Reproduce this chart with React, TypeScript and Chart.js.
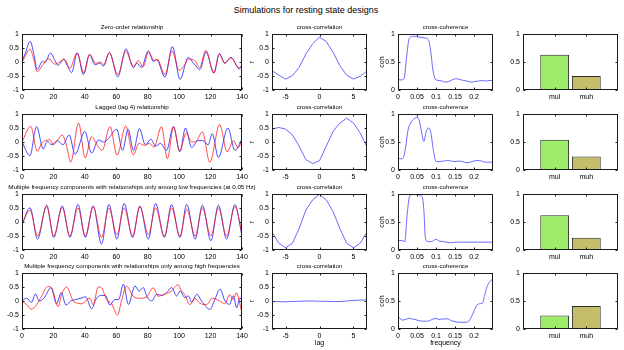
import React, { useEffect, useRef } from 'react';
import { Chart, registerables } from 'chart.js';

Chart.register(...registerables);

// ---------------- data ----------------
const ROW_TITLES = [
  'Zero-order relationship',
  'Lagged (lag 4) relationship',
  'Multiple frequency components with relationships only among low frequencies (at 0.05 Hz)',
  'Multiple frequency components with relationships only among high frequencies',
];
const MAIN_TITLE = 'Simulations for resting state designs';

const timeTicks = [0, 20, 40, 60, 80, 100, 120, 140];
const signalTicks = [-1, -0.5, 0, 0.5, 1];
const lagTicks = [-5, 0, 5];
const freqTicks = [0, 0.05, 0.1, 0.15, 0.2];
const unitTicks = [0, 0.5, 1];
const barCats = ['mul', 'muh'];
const barPos = [1, 2];

// row 1: zero-order
const zeroBlueT = [0, 2, 5.2, 7.5, 9.7, 13, 14.5, 18.2, 21, 23, 26.5, 29, 31.6, 35.2, 39, 42.9, 46.5, 49.6, 51.8, 55.6, 61, 66.2, 70.9, 73, 76, 80.4, 83.6, 85.7, 91, 95.7, 100.6, 105.8, 109, 113.3, 117.1, 122.2, 125.6, 129.2, 133, 138.3, 140];
const zeroBlueV = [0.02, 0.3, 0.74, 0.3, -0.27, 0.02, -0.02, 0.32, 0.05, -0.12, 0.1, -0.15, -0.38, 0.33, -0.45, 0.26, -0.1, -0.04, -0.15, 0.34, -0.53, 0.47, -0.21, -0.04, -0.2, 0.4, 0.02, 0.08, -0.54, 0.55, -0.62, 0.17, -0.03, -0.27, 0.36, -0.39, 0.3, -0.04, 0.17, -0.25, -0.1];
const zeroRedT = [0, 2, 5, 7.5, 9.7, 13, 17, 21, 24, 27, 30.5, 35, 39.5, 43, 47, 50, 52, 55.5, 61, 66, 71, 74, 77, 80.5, 84, 86, 91, 95.5, 100, 103, 106, 110, 113, 117, 122, 125.5, 129, 133, 138, 140];
const zeroRedV = [0.0, 0.2, 0.46, 0.1, -0.35, -0.12, 0.12, -0.08, 0.0, 0.1, -0.22, 0.32, -0.4, 0.28, -0.05, 0.0, -0.1, 0.33, -0.45, 0.38, -0.15, 0.05, -0.18, 0.35, 0.05, 0.1, -0.45, 0.4, -0.3, -0.15, 0.1, 0.05, -0.2, 0.42, -0.4, 0.28, -0.05, 0.15, -0.2, -0.12];

// row 2: lagged
const lagBlueT = [0, 5, 9.3, 13.5, 16, 19, 22.5, 26, 30, 33.8, 40, 44.3, 48.6, 52, 55, 60.2, 64, 67.5, 71, 74.7, 78.5, 82, 85, 88, 92, 96.3, 100.5, 104, 108, 112, 115, 118.5, 121, 125, 131, 135.5, 140];
const lagBlueV = [0, -0.49, 0.55, -0.25, 0.02, -0.1, 0.05, -0.1, 0.25, -0.44, 0.38, -0.4, 0.07, 0.0, 0.12, 0.46, -0.3, 0.45, -0.3, 0.48, -0.1, 0.1, -0.15, -0.05, -0.3, 0.55, -0.35, 0.5, -0.2, 0.05, 0.05, -0.1, 0.3, -0.55, 0.5, -0.3, 0.1];
const lagRedT = [0, 5.5, 9.7, 12.5, 15, 17.8, 20, 22.5, 25.5, 28, 31, 36, 40.2, 44.3, 48, 51, 56, 60.5, 66, 70.8, 74.5, 78, 81, 84, 88.8, 92.5, 96.5, 100.3, 104.5, 108, 111, 114.8, 119.5, 125.8, 130.5, 134.5, 137.5, 140];
const lagRedV = [0, 0.56, -0.33, -0.05, 0.05, 0.08, -0.1, 0.05, 0.25, -0.05, -0.72, 0.68, -0.57, 0.19, -0.12, -0.3, 0.55, -0.47, 0.57, -0.46, -0.05, -0.12, -0.05, -0.18, 0.55, -0.6, 0.55, -0.33, 0.32, 0.0, 0.04, 0.36, -0.72, 0.62, -0.35, 0.05, -0.2, 0.05];

// row 3: low frequencies
const lowT = [0, 5.1, 9.9, 15.7, 20.2, 25.6, 30.5, 35.6, 40.3, 45.3, 50.6, 55.3, 60.4, 65, 70.4, 75, 80.4, 85, 90.6, 95.2, 100.5, 104.8, 110.2, 114.8, 120.2, 125, 130.2, 135.5, 140];
const lowBlueV = [-0.1, 0.51, -0.61, 0.6, -0.55, 0.57, -0.55, 0.63, -0.55, 0.57, -0.79, 0.63, -0.61, 0.66, -0.55, 0.57, -0.61, 0.66, -0.55, 0.62, -0.55, 0.63, -0.61, 0.6, -0.67, 0.6, -0.61, 0.62, -0.5];
const lowRedV = [-0.05, 0.42, -0.5, 0.55, -0.5, 0.52, -0.5, 0.5, -0.5, 0.55, -0.55, 0.5, -0.45, 0.5, -0.5, 0.55, -0.45, 0.5, -0.5, 0.5, -0.5, 0.45, -0.5, 0.5, -0.5, 0.5, -0.5, 0.55, -0.4];

// row 4: high frequencies
const highBlueT = [0, 3, 6, 8.5, 11, 14, 18.5, 22, 25, 28, 31, 34, 37.5, 40.5, 44.3, 47, 50, 53, 56, 59, 61.5, 64.5, 67.7, 71.9, 74.5, 77.2, 79.3, 82.5, 85.7, 89, 92, 95.3, 98.4, 100.6, 103.7, 105.9, 108, 111.2, 114.3, 119.6, 122.8, 126, 129.2, 132, 134.5, 136.6, 138.7, 140];
const highBlueV = [0, 0.1, -0.05, 0.25, 0.0, 0.1, 0.48, -0.1, 0.3, -0.15, 0.0, 0.05, 0.1, 0.15, -0.28, 0.05, 0.2, 0.2, -0.15, 0.05, 0.05, 0.6, -0.12, 0.54, 0.35, 0.48, 0.18, 0.0, 0.24, 0.2, 0.3, 0.48, 0.18, 0.36, 0.12, 0.18, -0.05, 0.24, 0.0, -0.3, 0.06, 0.42, 0.0, -0.12, 0.18, -0.24, 0.12, 0.0];
const highRedT = [0, 3, 6, 9.3, 12.5, 16.3, 18.8, 23, 25.2, 28.3, 32.6, 34.7, 37.9, 43, 45.3, 48.5, 50.6, 53.8, 57, 60.8, 63.3, 66.5, 70.8, 75, 79, 83.5, 86.6, 91, 95, 99.3, 101.5, 103.6, 106.8, 110, 113, 117.4, 121, 125.8, 129, 132.2, 134.3, 136.4, 140];
const highRedV = [0, -0.13, -0.3, -0.13, 0.17, 0.52, 0.47, -0.2, 0.23, 0.5, 0.0, -0.07, -0.1, 0.1, -0.13, 0.5, 0.47, 0.05, -0.1, -0.5, 0.0, 0.53, 0.17, 0.1, 0.13, 0.47, 0.17, 0.25, 0.35, 0.58, 0.35, 0.23, -0.13, 0.1, -0.07, -0.13, 0.1, 0.0, -0.1, 0.23, 0.05, 0.29, -0.43];

// cross-correlation
const lags = [-7, -6, -5, -4, -3, -2, -1, 0, 1, 2, 3, 4, 5, 6, 7];
const xcZero = [-0.31, -0.47, -0.61, -0.49, -0.19, 0.29, 0.65, 0.89, 0.73, 0.35, -0.13, -0.47, -0.61, -0.51, -0.32];
const xcLag = [0.46, 0.52, 0.46, 0.26, -0.15, -0.63, -0.77, -0.67, -0.15, 0.38, 0.68, 0.85, 0.68, 0.32, -0.18];
const xcLow = [-0.35, -0.76, -0.92, -0.76, -0.23, 0.43, 0.79, 0.99, 0.79, 0.37, -0.23, -0.76, -0.92, -0.76, -0.35];
const xcHigh = [-0.02, -0.02, -0.03, -0.02, -0.01, 0.0, 0.0, -0.01, -0.01, -0.02, -0.02, 0.0, 0.02, 0.03, 0.04];

// cross-coherence
const cohZeroF = [0, 0.008, 0.016, 0.022, 0.028, 0.034, 0.042, 0.05, 0.06, 0.07, 0.08, 0.086, 0.092, 0.1, 0.108, 0.116, 0.124, 0.132, 0.142, 0.152, 0.162, 0.172, 0.182, 0.192, 0.202, 0.212, 0.222, 0.232, 0.242, 0.25];
const cohZeroV = [0.19, 0.18, 0.2, 0.55, 0.88, 0.95, 0.96, 0.95, 0.94, 0.93, 0.9, 0.7, 0.35, 0.18, 0.17, 0.16, 0.14, 0.15, 0.18, 0.2, 0.19, 0.17, 0.16, 0.14, 0.15, 0.16, 0.17, 0.16, 0.17, 0.17];
const cohLagF = [0, 0.008, 0.014, 0.02, 0.026, 0.033, 0.04, 0.05, 0.056, 0.062, 0.068, 0.074, 0.08, 0.086, 0.093, 0.1, 0.11, 0.12, 0.13, 0.14, 0.15, 0.16, 0.17, 0.18, 0.19, 0.2, 0.21, 0.22, 0.23, 0.24, 0.25];
const cohLagV = [0.21, 0.2, 0.22, 0.4, 0.7, 0.84, 0.9, 0.94, 0.88, 0.68, 0.51, 0.68, 0.75, 0.68, 0.36, 0.15, 0.15, 0.16, 0.17, 0.16, 0.15, 0.16, 0.15, 0.13, 0.14, 0.16, 0.17, 0.16, 0.14, 0.14, 0.14];
const cohLowF = [0, 0.01, 0.018, 0.024, 0.031, 0.04, 0.05, 0.058, 0.064, 0.068, 0.072, 0.078, 0.088, 0.1, 0.108, 0.12, 0.138, 0.155, 0.17, 0.19, 0.21, 0.23, 0.25];
const cohLowV = [0.17, 0.17, 0.15, 0.63, 0.97, 0.99, 0.99, 0.98, 0.94, 0.72, 0.22, 0.15, 0.15, 0.19, 0.16, 0.15, 0.13, 0.14, 0.14, 0.14, 0.14, 0.14, 0.14];
const cohHighF = [0, 0.006, 0.012, 0.02, 0.028, 0.036, 0.045, 0.055, 0.065, 0.077, 0.09, 0.1, 0.108, 0.118, 0.13, 0.14, 0.15, 0.165, 0.18, 0.186, 0.192, 0.2, 0.207, 0.214, 0.222, 0.228, 0.234, 0.24, 0.245, 0.25];
const cohHighV = [0.23, 0.18, 0.16, 0.17, 0.19, 0.18, 0.17, 0.15, 0.14, 0.14, 0.17, 0.19, 0.17, 0.18, 0.18, 0.15, 0.13, 0.12, 0.12, 0.14, 0.2, 0.32, 0.42, 0.45, 0.46, 0.6, 0.75, 0.83, 0.87, 0.89];

// bars (mul, muh)
const barZero = [0.63, 0.25];
const barLag = [0.54, 0.24];
const barLow = [0.62, 0.22];
const barHigh = [0.24, 0.41];

// ---------------- styling / layout ----------------
const FONT = "'Liberation Sans', Arial, Helvetica, sans-serif";
const BLUE = 'rgba(20,20,255,0.85)';
const RED = 'rgba(255,20,20,0.85)';
const XC_BLUE = 'rgba(70,70,255,0.9)';
const BAR_COLORS = ['#9ded6a', '#c4be6b'];
const ROW_TOP = [34, 114, 194, 273];
const PLOT_H = 56;
const TOP_SPACE = 14;
const COLS = [
  { left: 22, w: 220, ly: 22 },
  { left: 272, w: 95, ly: 24 },
  { left: 398, w: 95, ly: 22 },
  { left: 523, w: 95, ly: 16 },
];

const tickFont = { family: FONT, size: 7, lineHeight: 8 / 7, weight: 'normal' };
const titleFont = { family: FONT, size: 6.2, lineHeight: 8 / 6.2, weight: 'normal' };

function pts(t: number[], v: number[]) {
  return t.map((x, i) => ({ x, y: v[i] }));
}

const boxPlugin = {
  id: 'matlabBox',
  afterDatasetsDraw(chart: any) {
    const { ctx, chartArea: a, scales } = chart;
    const L = Math.round(a.left) + 0.5;
    const R = Math.round(a.right) - 0.5;
    const T = Math.round(a.top) + 0.5;
    const B = Math.round(a.bottom) - 0.5;
    const tl = 2;
    ctx.save();
    ctx.strokeStyle = '#1a1a1a';
    ctx.lineWidth = 1;
    ctx.strokeRect(L, T, R - L, B - T);
    ctx.beginPath();
    scales.x.ticks.forEach((t: any) => {
      const p = Math.round(scales.x.getPixelForValue(t.value)) + 0.5;
      ctx.moveTo(p, B); ctx.lineTo(p, B - tl);
      ctx.moveTo(p, T); ctx.lineTo(p, T + tl);
    });
    scales.y.ticks.forEach((t: any) => {
      const p = Math.round(scales.y.getPixelForValue(t.value)) + 0.5;
      ctx.moveTo(L, p); ctx.lineTo(L + tl, p);
      ctx.moveTo(R, p); ctx.lineTo(R - tl, p);
    });
    ctx.stroke();
    ctx.restore();
  },
};

function xAxis(min: number, max: number, ticks: number[], height: number, label: (v: number) => string, title?: string) {
  return {
    type: 'linear', position: 'bottom', min, max, offset: false,
    grid: { display: false, drawTicks: false }, border: { display: false },
    afterBuildTicks: (s: any) => { s.ticks = ticks.map((v) => ({ value: v })); },
    afterFit: (s: any) => { s.height = height; },
    ticks: { font: tickFont, color: '#000', padding: 3, autoSkip: false, maxRotation: 0, minRotation: 0, callback: (v: any) => label(Number(v)) },
    title: title
      ? { display: true, text: title, color: '#000', font: tickFont, padding: { top: 0, bottom: 3.5 } }
      : { display: false },
  };
}

function yAxis(min: number, max: number, ticks: number[], width: number, title?: string, titlePad = 0) {
  return {
    type: 'linear', position: 'left', min, max,
    grid: { display: false, drawTicks: false }, border: { display: false },
    afterBuildTicks: (s: any) => { s.ticks = ticks.map((v) => ({ value: v })); },
    afterFit: (s: any) => { s.width = width; },
    ticks: { font: tickFont, color: '#000', padding: 3, autoSkip: false, callback: (v: any) => String(v) },
    title: title
      ? { display: true, text: title, color: '#000', font: tickFont, padding: { top: titlePad, bottom: 0 } }
      : { display: false },
  };
}

function spacer(width: number) {
  return {
    type: 'linear', position: 'right', min: 0, max: 1, display: true,
    grid: { display: false, drawTicks: false }, border: { display: false },
    ticks: { display: false },
    afterFit: (s: any) => { s.width = width; },
  };
}

function lineSet(data: any[], color: string, smooth: boolean, width = 0.9) {
  return {
    data, borderColor: color, borderWidth: width, pointRadius: 0, fill: false,
    tension: 0, cubicInterpolationMode: smooth ? 'monotone' : 'default',
  };
}

type Spec = { key: string; left: number; top: number; width: number; height: number; config: any };

function makeSpec(row: number, col: number, type: string, datasets: any[], scalesXY: { x: any; y: any }, title: string | null, hasXTitle: boolean): Spec {
  const c = COLS[col];
  const bx = hasXTitle ? 22 : 12;
  const width = c.w + 2 * c.ly;
  const height = TOP_SPACE + PLOT_H + bx;
  const config = {
    type,
    data: { datasets },
    options: {
      responsive: false,
      animation: false,
      events: [],
      layout: { padding: { top: title ? 0 : TOP_SPACE, left: 0, right: 0, bottom: 0 } },
      plugins: {
        legend: { display: false },
        tooltip: { enabled: false },
        title: title
          ? { display: true, text: title, fullSize: true, color: '#000', font: titleFont, padding: { top: 3.5, bottom: 2.5 } }
          : { display: false },
      },
      scales: { x: scalesXY.x, y: scalesXY.y, yr: spacer(c.ly) },
    },
    plugins: [boxPlugin],
  };
  return { key: `${row}-${col}`, left: c.left - c.ly, top: ROW_TOP[row] - TOP_SPACE, width, height, config };
}

const TS = [
  { blueT: zeroBlueT, blueV: zeroBlueV, redT: zeroRedT, redV: zeroRedV },
  { blueT: lagBlueT, blueV: lagBlueV, redT: lagRedT, redV: lagRedV },
  { blueT: lowT, blueV: lowBlueV, redT: lowT, redV: lowRedV },
  { blueT: highBlueT, blueV: highBlueV, redT: highRedT, redV: highRedV },
];
const XC = [xcZero, xcLag, xcLow, xcHigh];
const COH = [
  { f: cohZeroF, v: cohZeroV },
  { f: cohLagF, v: cohLagV },
  { f: cohLowF, v: cohLowV },
  { f: cohHighF, v: cohHighV },
];
const BARS = [barZero, barLag, barLow, barHigh];

function buildSpecs(): Spec[] {
  const specs: Spec[] = [];
  for (let r = 0; r < 4; r++) {
    const last = r === 3;
    const ts = TS[r];
    specs.push(makeSpec(r, 0, 'line', [
      lineSet(pts(ts.redT, ts.redV), RED, true),
      lineSet(pts(ts.blueT, ts.blueV), BLUE, true),
    ], {
      x: xAxis(0, 140, timeTicks, 12, (v) => String(v)),
      y: yAxis(-1, 1, signalTicks, COLS[0].ly),
    }, ROW_TITLES[r], false));

    specs.push(makeSpec(r, 1, 'line', [lineSet(pts(lags, XC[r]), XC_BLUE, false)], {
      x: xAxis(-7, 7, lagTicks, last ? 22 : 12, (v) => String(v), last ? 'lag' : undefined),
      y: yAxis(-1, 1, signalTicks, COLS[1].ly, 'r', 0),
    }, 'cross-correlation', last));

    specs.push(makeSpec(r, 2, 'line', [lineSet(pts(COH[r].f, COH[r].v), XC_BLUE, true)], {
      x: xAxis(0, 0.25, freqTicks, last ? 22 : 12, (v) => String(v), last ? 'frequency' : undefined),
      y: yAxis(0, 1, unitTicks, COLS[2].ly, 'coh', 2.5),
    }, 'cross-coherence', last));

    specs.push(makeSpec(r, 3, 'bar', [{
      data: pts(barPos, BARS[r]),
      backgroundColor: BAR_COLORS,
      borderColor: '#2a2a2a',
      borderWidth: 1,
      borderSkipped: false,
      barPercentage: 0.91,
      categoryPercentage: 1,
    }], {
      x: xAxis(0, 3, barPos, 12, (v) => barCats[v - 1] ?? ''),
      y: yAxis(0, 1, unitTicks, COLS[3].ly),
    }, null, false));
  }
  return specs;
}

function ChartPanel({ spec }: { spec: Spec }) {
  const ref = useRef<HTMLCanvasElement>(null);
  useEffect(() => {
    const chart = new Chart(ref.current as HTMLCanvasElement, spec.config);
    return () => chart.destroy();
  }, [spec]);
  return (
    <canvas
      ref={ref}
      width={spec.width}
      height={spec.height}
      style={{ position: 'absolute', left: spec.left, top: spec.top, width: spec.width, height: spec.height }}
    />
  );
}

const SPECS = buildSpecs();

export default function App() {
  return (
    <div style={{ position: 'absolute', left: 0, top: 0, width: 624, height: 350, overflow: 'hidden', background: '#fff' }}>
      <div style={{ position: 'absolute', left: 0, top: 4, width: 612, textAlign: 'center', fontFamily: FONT, fontSize: 9, lineHeight: '12px', color: '#000' }}>
        {MAIN_TITLE}
      </div>
      {SPECS.map((s) => <ChartPanel key={s.key} spec={s} />)}
    </div>
  );
}
